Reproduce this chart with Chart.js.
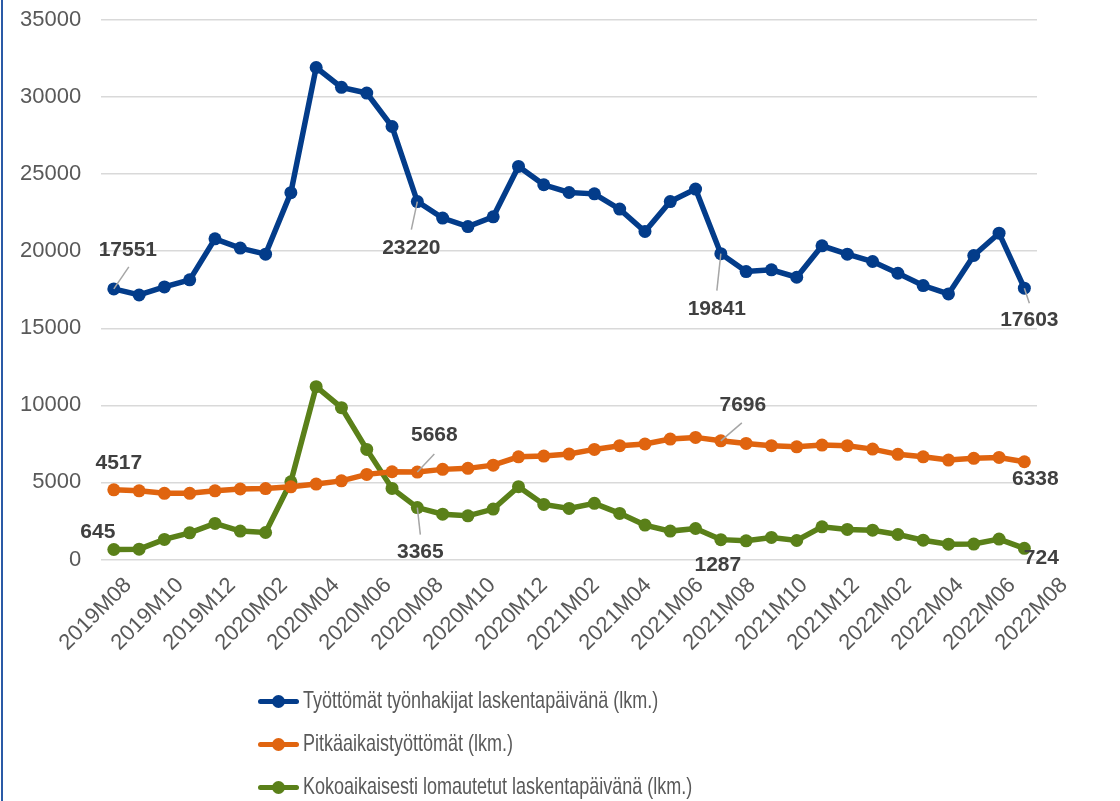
<!DOCTYPE html>
<html lang="fi">
<head>
<meta charset="utf-8">
<title>Työttömät ja lomautetut</title>
<script src="https://cdn.jsdelivr.net/npm/chart.js@4.4.1/dist/chart.umd.min.js"></script>
<style>
  html, body { margin: 0; padding: 0; background: #fff; }
  #kehys { position: relative; width: 1120px; height: 801px; overflow: hidden; }
  #reuna { position: absolute; left: 1px; top: 0; width: 2px; height: 801px; background: #2a5aa6; }
  #selite { position: absolute; left: 258px; top: 680px; font-family: "Liberation Sans", Arial, sans-serif; color: #595959; }
  .rivi { position: absolute; left: 0; height: 43px; width: 700px; }
  .merkki { position: absolute; left: 0; top: 19px; width: 41px; height: 5px; border-radius: 3px; }
  .piste { position: absolute; left: 14px; top: -4px; width: 13px; height: 13px; border-radius: 50%; }
  .teksti { position: absolute; left: 45px; top: 6px; font-size: 24px; line-height: 28px; white-space: nowrap; transform: scaleX(0.75); transform-origin: left center; }
</style>
</head>
<body>
<div id="kehys">
  <canvas id="cvs_tyottomat" width="1120" height="801"></canvas>
  <div id="reuna"></div>
  <div id="selite"></div>
</div>
<script>
// Kuukaudet (x-akseli)
const kuukaudet = [
    "2019M08", "2019M09", "2019M10", "2019M11", "2019M12",
    "2020M01", "2020M02", "2020M03", "2020M04", "2020M05", "2020M06",
    "2020M07", "2020M08", "2020M09", "2020M10", "2020M11", "2020M12",
    "2021M01", "2021M02", "2021M03", "2021M04", "2021M05", "2021M06",
    "2021M07", "2021M08", "2021M09", "2021M10", "2021M11", "2021M12",
    "2022M01", "2022M02", "2022M03", "2022M04", "2022M05", "2022M06",
    "2022M07", "2022M08"
];

// Sarjat (luettu kuvasta, merkityt pisteet tarkkoina)
const tyottomat = [
    17551, 17160, 17680, 18140, 20800, 20200, 19810, 23800, 31920, 30630,
    30260, 28090, 23220, 22150, 21600, 22230, 25500, 24310, 23810, 23720,
    22730, 21280, 23220, 24030, 19841, 18680, 18790, 18310, 20350, 19810,
    19330, 18570, 17770, 17230, 19720, 21170, 17603
];
const pitkaaikaiset = [
    4517, 4455, 4290, 4290, 4455, 4570, 4600, 4715, 4890, 5100,
    5520, 5690, 5668, 5845, 5910, 6120, 6660, 6710, 6840, 7140,
    7380, 7490, 7810, 7920, 7696, 7530, 7380, 7310, 7420, 7380,
    7160, 6820, 6660, 6450, 6560, 6620, 6338
];
const lomautetut = [
    645, 670, 1300, 1730, 2340, 1840, 1750, 5040, 11210, 9850,
    7140, 4610, 3365, 2940, 2830, 3270, 4720, 3570, 3310, 3640,
    2990, 2230, 1840, 2010, 1287, 1210, 1430, 1230, 2120, 1950,
    1900, 1620, 1250, 990, 1000, 1320, 724
];

const sarjanimet = [
    "Työttömät työnhakijat laskentapäivänä (lkm.)",
    "Pitkäaikaistyöttömät (lkm.)",
    "Kokoaikaisesti lomautetut laskentapäivänä (lkm.)"
];
const varit = ["#033c8a", "#e0640f", "#5a8019"];

// Arvomerkinnät: sarja, piste, siirto tekstille ja apuviivalle
const merkinnat = [
    { ds: 0, i: 0,  dx: 14,  dy: -39, viiva: [15, -22] },
    { ds: 0, i: 12, dx: -6,  dy: 47,  viiva: [-6, 28] },
    { ds: 0, i: 24, dx: -4,  dy: 56,  viiva: [-4, 37] },
    { ds: 0, i: 36, dx: 5,   dy: 32,  viiva: [5, 15] },
    { ds: 1, i: 0,  dx: 5,   dy: -27 },
    { ds: 1, i: 12, dx: 17,  dy: -37, viiva: [17, -18] },
    { ds: 1, i: 24, dx: 22,  dy: -36, viiva: [21, -18] },
    { ds: 1, i: 36, dx: 11,  dy: 17 },
    { ds: 2, i: 0,  dx: -16, dy: -17 },
    { ds: 2, i: 12, dx: 3,   dy: 45,  viiva: [3, 27] },
    { ds: 2, i: 24, dx: -3,  dy: 26 },
    { ds: 2, i: 36, dx: 17,  dy: 10 }
];

const fontti = '"Liberation Sans", Arial, sans-serif';

// Plugin: arvot ja apuviivat
const arvoPlugin = {
    id: "arvot",
    afterDatasetsDraw(chart) {
        const ctx = chart.ctx;
        ctx.save();
        merkinnat.forEach(m => {
            const p = chart.getDatasetMeta(m.ds).data[m.i];
            const arvo = chart.data.datasets[m.ds].data[m.i];
            if (m.viiva) {
                ctx.strokeStyle = "#a6a6a6";
                ctx.lineWidth = 1.5;
                ctx.beginPath();
                ctx.moveTo(p.x, p.y);
                ctx.lineTo(p.x + m.viiva[0], p.y + m.viiva[1]);
                ctx.stroke();
            }
            ctx.fillStyle = "#404040";
            ctx.font = "bold 21px " + fontti;
            ctx.textAlign = "center";
            ctx.textBaseline = "middle";
            ctx.fillText(String(arvo), p.x + m.dx, p.y + m.dy);
        });
        ctx.restore();
    }
};

const sarjat = [tyottomat, pitkaaikaiset, lomautetut].map((d, k) => ({
    label: sarjanimet[k],
    data: d,
    borderColor: varit[k],
    backgroundColor: varit[k],
    borderWidth: 5.5,
    pointRadius: 6.5,
    pointHoverRadius: 6.5,
    pointBorderWidth: 0,
    tension: 0,
    fill: false
}));

new Chart(document.getElementById("cvs_tyottomat"), {
    type: "line",
    data: { labels: kuukaudet, datasets: sarjat },
    options: {
        responsive: false,
        animation: false,
        // y-akselin leveys laskee tick-paddingin kahdesti, siksi vasen 0
        layout: { padding: { left: 0, top: 20, right: 83, bottom: 140 } },
        plugins: {
            legend: { display: false },
            tooltip: { enabled: false }
        },
        scales: {
            // datan akseli, ei näkyvissä
            x: {
                offset: true,
                display: false
            },
            // nimikeakseli: Excelin nimikkeet ovat hieman harvemmassa kuin pisteet
            xNimet: {
                type: "category",
                position: "bottom",
                labels: kuukaudet,
                offset: false,
                grid: { display: false },
                border: { display: false },
                afterFit: s => { s.paddingLeft = 0; s.paddingRight = 0; },
                ticks: {
                    autoSkip: false,
                    minRotation: 45,
                    maxRotation: 45,
                    padding: 5,
                    labelOffset: 27,
                    color: "#595959",
                    font: { family: fontti, size: 22 },
                    callback: function (v, i) { return i % 2 === 0 ? kuukaudet[i] : ""; }
                }
            },
            y: {
                min: 0,
                max: 35000,
                grid: { color: "#d9d9d9", lineWidth: 1.5, drawTicks: false },
                border: { display: false },
                afterFit: s => { s.paddingTop = 0; s.paddingBottom = 0; },
                ticks: {
                    stepSize: 5000,
                    padding: 20,
                    color: "#595959",
                    font: { family: fontti, size: 22 },
                    callback: v => String(v)
                }
            }
        }
    },
    plugins: [arvoPlugin]
});

// Selite
const selite = document.getElementById("selite");
sarjanimet.forEach((nimi, k) => {
    const rivi = document.createElement("div");
    rivi.className = "rivi";
    rivi.style.top = (k * 43) + "px";
    rivi.innerHTML =
        '<div class="merkki" style="background:' + varit[k] + '">' +
        '<div class="piste" style="background:' + varit[k] + '"></div></div>' +
        '<span class="teksti">' + nimi + '</span>';
    selite.appendChild(rivi);
});
</script>
</body>
</html>
